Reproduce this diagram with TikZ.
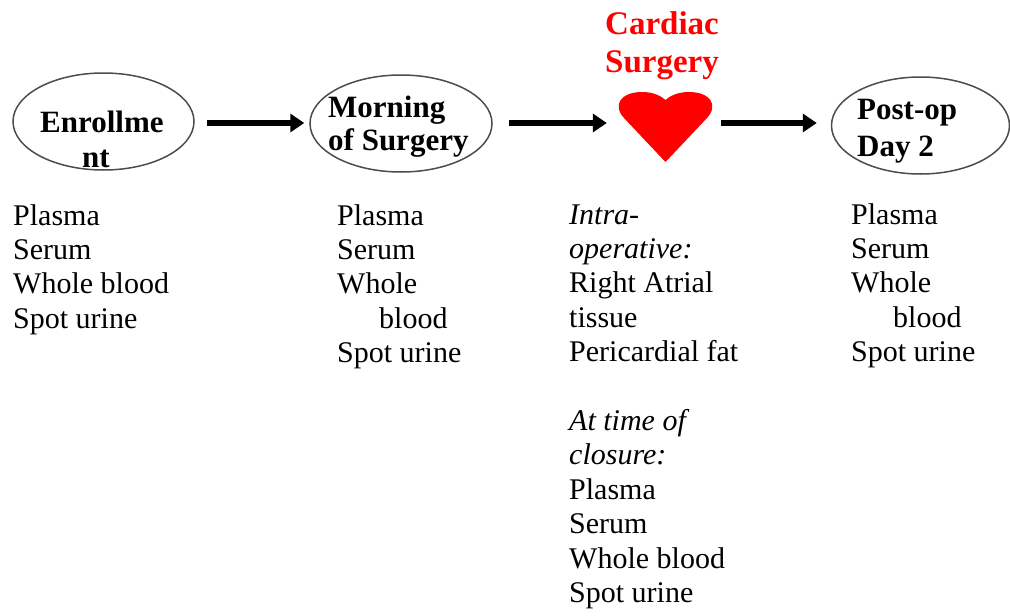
\documentclass[tikz,border=0pt]{standalone}
\usepackage{fontspec}
\setmainfont{Liberation Serif}
\usetikzlibrary{shapes.geometric,arrows.meta}
\begin{document}
\begin{tikzpicture}[x=1pt,y=-1pt,
  stage/.style={ellipse,draw=black!70,line width=1.5pt,inner sep=0pt,minimum width=#1},
  stagetext/.style={anchor=base west,inner sep=0pt,font=\fontsize{31}{34}\selectfont\bfseries},
  redtext/.style={anchor=base west,inner sep=0pt,text=red,font=\fontsize{33}{38}\selectfont\bfseries},
  lst/.style={anchor=base west,inner sep=0pt,font=\fontsize{30}{34}\selectfont},
  arr/.style={line width=5.5pt,-{Triangle[length=14pt,width=18pt]}}]
\useasboundingbox (0,0) rectangle (1010,616);
% stages
\node[stage=181pt,minimum height=97pt] (e1) at (103.5,121.5) {};
\node[stage=182pt,minimum height=97pt] (e2) at (401,123.5) {};
\node[stage=178pt,minimum height=97pt] (e4) at (920.5,125.5) {};
\node[stagetext] (t1a) at (40,132.5) {Enrollme};
\node[stagetext] (t1b) at (82,167) {nt};
\node[stagetext] (t2a) at (328,117) {Morning};
\node[stagetext] (t2b) at (328,150.5) {of Surgery};
\node[stagetext] (t4a) at (857,119) {Post-op};
\node[stagetext] (t4b) at (857,156) {Day 2};
\node[redtext] (c1) at (605,34) {Cardiac};
\node[redtext] (c2) at (605,72) {Surgery};
% heart
\fill[red] (665.5,162) -- (624,118)
  .. controls (612,105) and (621,92) .. (642,92)
  .. controls (655,92) and (662,97) .. (665.5,100)
  .. controls (669,97) and (676,92) .. (689,92)
  .. controls (710,92) and (719,105) .. (707,118) -- cycle;
\node[inner sep=0pt,minimum width=91pt,minimum height=62pt] (heart) at (665.5,123) {};
% arrows
\draw[arr,shorten <=12pt,shorten >=5pt] (e1.east |- 0,123) -- (e2.west |- 0,123);
\draw[arr,shorten <=16pt,shorten >=13pt] (e2.east |- heart.west) -- (heart.west);
\draw[arr,shorten <=10pt,shorten >=14pt] (heart.east) -- (e4.west |- heart.east);
% column 1
\node[lst] (a1) at (13,225) {Plasma};
\node[lst] (a2) at (13,259.4) {Serum};
\node[lst] (a3) at (13,293.8) {Whole blood};
\node[lst] (a4) at (13,328.2) {Spot urine};
% column 2
\node[lst] (b1) at (337,225) {Plasma};
\node[lst] (b2) at (337,259.4) {Serum};
\node[lst] (b3) at (337,293.8) {Whole};
\node[lst] (b4) at (379,328.2) {blood};
\node[lst] (b5) at (337,362.6) {Spot urine};
% column 3
\node[lst,font=\fontsize{30}{34}\selectfont\itshape] (d1) at (569,224) {Intra-};
\node[lst,font=\fontsize{30}{34}\selectfont\itshape] (d2) at (569,258.4) {operative:};
\node[lst] (d3) at (569,292.8) {Right Atrial};
\node[lst] (d4) at (569,327.2) {tissue};
\node[lst] (d5) at (569,361.6) {Pericardial fat};
\node[lst,font=\fontsize{30}{34}\selectfont\itshape] (d6) at (569,430.4) {At time of};
\node[lst,font=\fontsize{30}{34}\selectfont\itshape] (d7) at (569,464.8) {closure:};
\node[lst] (d8) at (569,499.2) {Plasma};
\node[lst] (d9) at (569,533.6) {Serum};
\node[lst] (d10) at (569,568) {Whole blood};
\node[lst] (d11) at (569,602.4) {Spot urine};
% column 4
\node[lst] (f1) at (851,224) {Plasma};
\node[lst] (f2) at (851,258.4) {Serum};
\node[lst] (f3) at (851,292.8) {Whole};
\node[lst] (f4) at (893,327.2) {blood};
\node[lst] (f5) at (851,361.6) {Spot urine};
\end{tikzpicture}
\end{document}
